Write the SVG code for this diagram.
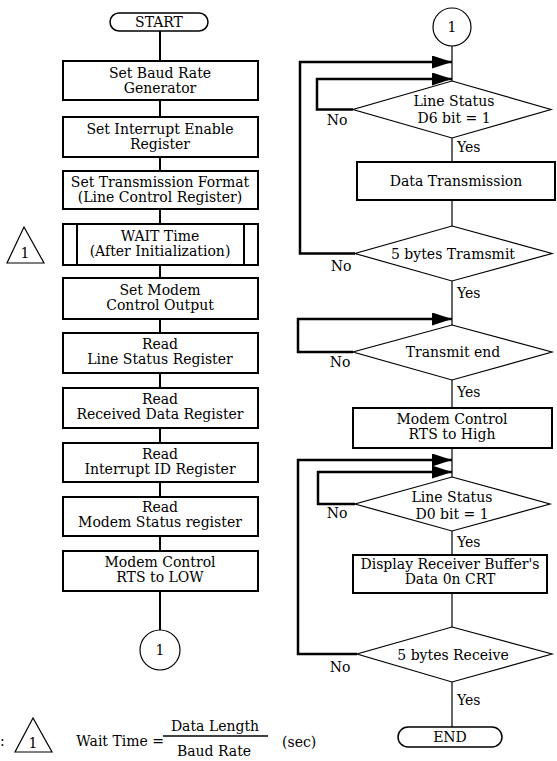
<svg xmlns="http://www.w3.org/2000/svg" width="557" height="761" viewBox="0 0 557 761">
<style>
text{font-family:"DejaVu Serif","Liberation Serif",serif;font-size:14px;fill:#000;text-anchor:middle}
.l{text-anchor:start}
.e{text-anchor:end}
.box{fill:#fff;stroke:#000;stroke-width:2}
.dia{fill:#fff;stroke:#000;stroke-width:1.2}
.term{fill:#fff;stroke:#000;stroke-width:1.5}
.thin{fill:none;stroke:#000;stroke-width:1.2}
.thick{fill:none;stroke:#000;stroke-width:2}
.loop{fill:none;stroke:#000;stroke-width:2.5}
</style>
<defs>
<marker id="ah" viewBox="0 0 20 13" markerWidth="20" markerHeight="13" refX="20" refY="6.5" orient="auto" markerUnits="userSpaceOnUse">
<path d="M0,0 L20,6.5 L0,13 z" fill="#000"/>
</marker>
</defs>
<rect width="557" height="761" fill="#fff"/>

<g id="connectors">
<path class="thick" d="M160,31V61 M160,100V117 M160,157V171 M160,209V224 M160,265V278 M160,319V333 M160,373V388 M160,428V443 M160,482V497 M160,536V551 M160,591V630"/>
<path class="thin" d="M452,46V81 M452,138V162 M452,200V226 M452,281V325 M452,380V408 M452,448V477 M452,531V555 M452,593V627 M452,682V727"/>
<path class="loop" d="M353,109.5H317V79H452" marker-end="url(#ah)"/>
<path class="loop" d="M355,253.5H300V62H452" marker-end="url(#ah)"/>
<path class="loop" d="M353,352H298V319H452" marker-end="url(#ah)"/>
<path class="loop" d="M357,654H298V460H452" marker-end="url(#ah)"/>
<path class="loop" d="M355,504H318V472H452" marker-end="url(#ah)"/>
<text x="337" y="125">No</text>
<text x="341" y="271">No</text>
<text x="340" y="367">No</text>
<text x="337" y="518">No</text>
<text x="340" y="672">No</text>
<text class="l" x="457" y="152">Yes</text>
<text class="l" x="457" y="298">Yes</text>
<text class="l" x="457" y="397">Yes</text>
<text class="l" x="457" y="547">Yes</text>
<text class="l" x="457" y="705">Yes</text>
</g>

<g id="start">
<rect class="term" x="110" y="13" width="98" height="18" rx="9" ry="9"/>
<text x="159" y="27">START</text>
</g>
<g id="set-baud">
<rect class="box" x="63" y="61" width="195" height="39"/>
<text x="160" y="78">Set Baud Rate</text>
<text x="160" y="93">Generator</text>
</g>
<g id="set-ier">
<rect class="box" x="63" y="117" width="195" height="40"/>
<text x="160" y="134">Set Interrupt Enable</text>
<text x="160" y="149">Register</text>
</g>
<g id="set-format">
<rect class="box" x="63" y="171" width="195" height="38"/>
<text x="160" y="187">Set Transmission Format</text>
<text x="160" y="202">(Line Control Register)</text>
</g>
<g id="wait">
<rect class="box" x="63" y="224" width="195" height="41"/>
<path class="thick" d="M77,224V265 M244,224V265"/>
<text x="160" y="241">WAIT Time</text>
<text x="160" y="256">(After Initialization)</text>
</g>
<g id="note-mark">
<polygon class="thin" points="24,227 7,263 44,263"/>
<text x="25" y="258">1</text>
</g>
<g id="set-modem">
<rect class="box" x="63" y="278" width="195" height="41"/>
<text x="160" y="295">Set Modem</text>
<text x="160" y="310">Control Output</text>
</g>
<g id="read-lsr">
<rect class="box" x="63" y="333" width="195" height="40"/>
<text x="160" y="349">Read</text>
<text x="160" y="364">Line Status Register</text>
</g>
<g id="read-rdr">
<rect class="box" x="63" y="388" width="195" height="40"/>
<text x="160" y="404">Read</text>
<text x="160" y="419">Received Data Register</text>
</g>
<g id="read-iir">
<rect class="box" x="63" y="443" width="195" height="39"/>
<text x="160" y="459">Read</text>
<text x="160" y="474">Interrupt ID Register</text>
</g>
<g id="read-msr">
<rect class="box" x="63" y="497" width="195" height="39"/>
<text x="160" y="512">Read</text>
<text x="160" y="527">Modem Status register</text>
</g>
<g id="rts-low">
<rect class="box" x="63" y="551" width="195" height="40"/>
<text x="160" y="567">Modem Control</text>
<text x="160" y="582">RTS to LOW</text>
</g>
<g id="conn-out">
<circle class="thin" cx="160" cy="650" r="20"/>
<text x="160" y="655">1</text>
</g>

<g id="conn-in">
<circle class="thin" cx="452" cy="27" r="19"/>
<text x="452" y="32">1</text>
</g>
<g id="d6">
<polygon class="dia" points="452,81 551,109.5 452,138 353,109.5"/>
<text x="454" y="106">Line Status</text>
<text x="454" y="123">D6 bit = 1</text>
</g>
<g id="data-tx">
<rect class="box" x="357" y="162" width="198" height="38"/>
<text x="456" y="186">Data Transmission</text>
</g>
<g id="tx5">
<polygon class="dia" points="452,226 552,253.5 452,281 355,253.5"/>
<text x="453" y="259">5 bytes Tramsmit</text>
</g>
<g id="tx-end">
<polygon class="dia" points="452,325 552,352 452,380 353,352"/>
<text x="453" y="357">Transmit end</text>
</g>
<g id="rts-high">
<rect class="box" x="353" y="408" width="199" height="40"/>
<text x="452" y="424">Modem Control</text>
<text x="452" y="439">RTS to High</text>
</g>
<g id="d0">
<polygon class="dia" points="452,477 550,504 452,531 355,504"/>
<text x="452" y="502">Line Status</text>
<text x="452" y="519">D0 bit  = 1</text>
</g>
<g id="display">
<rect class="box" x="353" y="555" width="194" height="38"/>
<text x="450" y="569">Display Receiver Buffer's</text>
<text x="450" y="584">Data 0n CRT</text>
</g>
<g id="rx5">
<polygon class="dia" points="452,627 552,654 452,682 357,654"/>
<text x="453" y="660">5 bytes Receive</text>
</g>
<g id="end">
<rect class="term" x="398" y="727" width="104" height="20" rx="10" ry="10"/>
<text x="450" y="742">END</text>
</g>

<g id="legend">
<text class="l" x="0" y="746">:</text>
<polygon class="thin" points="33,718 15,752 52,752"/>
<text x="33" y="748">1</text>
<text class="e" x="164" y="746">Wait Time =</text>
<path d="M163,736H268" stroke="#000" stroke-width="1.5"/>
<text x="215" y="731">Data Length</text>
<text x="214" y="756">Baud Rate</text>
<text class="l" x="282" y="747">(sec)</text>
</g>
</svg>
